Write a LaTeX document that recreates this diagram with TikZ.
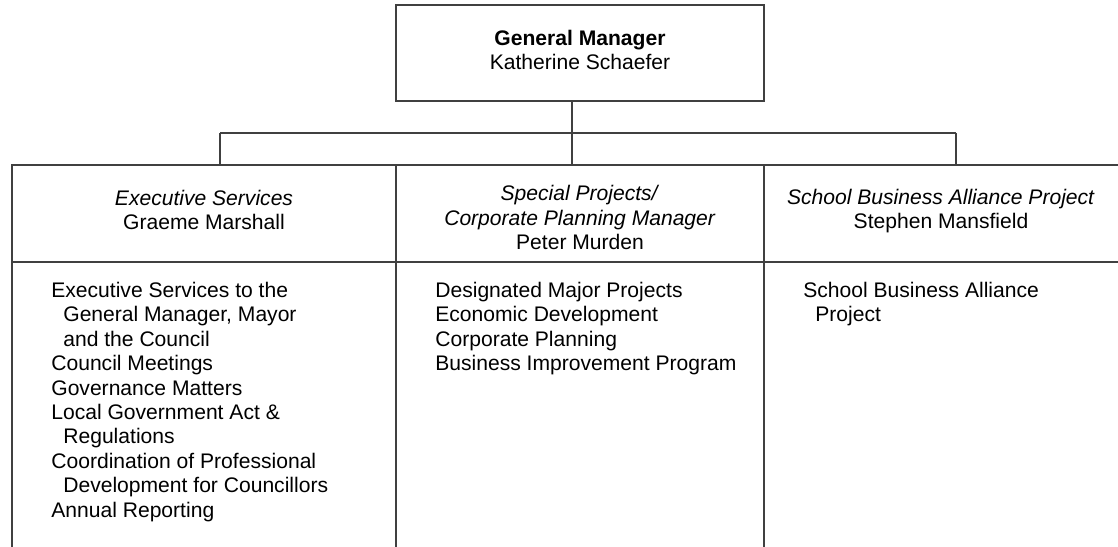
\documentclass[tikz,border=0pt]{standalone}
\usepackage{fontspec}
\setmainfont{Liberation Sans}
\usetikzlibrary{fit}

\tikzset{
  box/.style={draw=black!75, line width=0.6pt, inner sep=0pt},
  link/.style={draw=black!75, line width=0.6pt},
  title/.style={inner sep=0pt, align=center, anchor=north,
    font=\fontsize{12}{13.9}\selectfont},
  duties/.style={inner sep=0pt, align=left, anchor=north west,
    font=\fontsize{12}{13.9}\selectfont},
}
\newcommand{\ind}{\hspace*{0.24cm}}

\begin{document}
\begin{tikzpicture}[x=0.02cm, y=-0.02cm]
  \useasboundingbox (0,0) rectangle (1118,547);

  % General Manager at the top
  \node[box, fit={(396,5) (764,101)}] (gm) {};
  \node[title] (gmname) at (580,29.5) {\textbf{General Manager}\\Katherine Schaefer};

  % Department headers
  \node[box, fit={(12,165) (396,262)}] (exec) {};
  \node[box, fit={(396,165) (764,262)}] (special) {};
  \node[box, fit={(764,165) (1140,262)}] (school) {};

  \node[title] (execname) at (204,189.5) {\textit{Executive Services}\\Graeme Marshall};
  \node[title] (specialname) at (580,185) {\textit{Special Projects/}\\\textit{Corporate Planning Manager}\\Peter Murden};
  \node[title] (schoolname) at (941,188.7) {\textit{School Business Alliance Project}\\Stephen Mansfield};

  % Department duties
  \node[box, fit={(12,262) (396,570)}] (execbody) {};
  \node[box, fit={(396,262) (764,570)}] (specialbody) {};
  \node[box, fit={(764,262) (1140,570)}] (schoolbody) {};

  \node[duties] (execlist) at (51,281.8) {Executive Services to the\\
    \ind General Manager, Mayor\\
    \ind and the Council\\
    Council Meetings\\
    Governance Matters\\
    Local Government Act \&\\
    \ind Regulations\\
    Coordination of Professional\\
    \ind Development for Councillors\\
    Annual Reporting};
  \node[duties] (speciallist) at (435,281.8) {Designated Major Projects\\
    Economic Development\\
    Corporate Planning\\
    Business Improvement Program};
  \node[duties] (schoollist) at (803,281.8) {School Business Alliance\\
    \ind Project};

  % Reporting lines
  \coordinate (bus) at (572,133);
  \draw[link] (gm.south -| bus) -- (bus);
  \draw[link] (220,133) -- (956,133);
  \foreach \x/\dept in {220/exec,572/special,956/school}
    \draw[link] (\x,133) -- (\x,133 |- \dept.north);

\end{tikzpicture}
\end{document}
